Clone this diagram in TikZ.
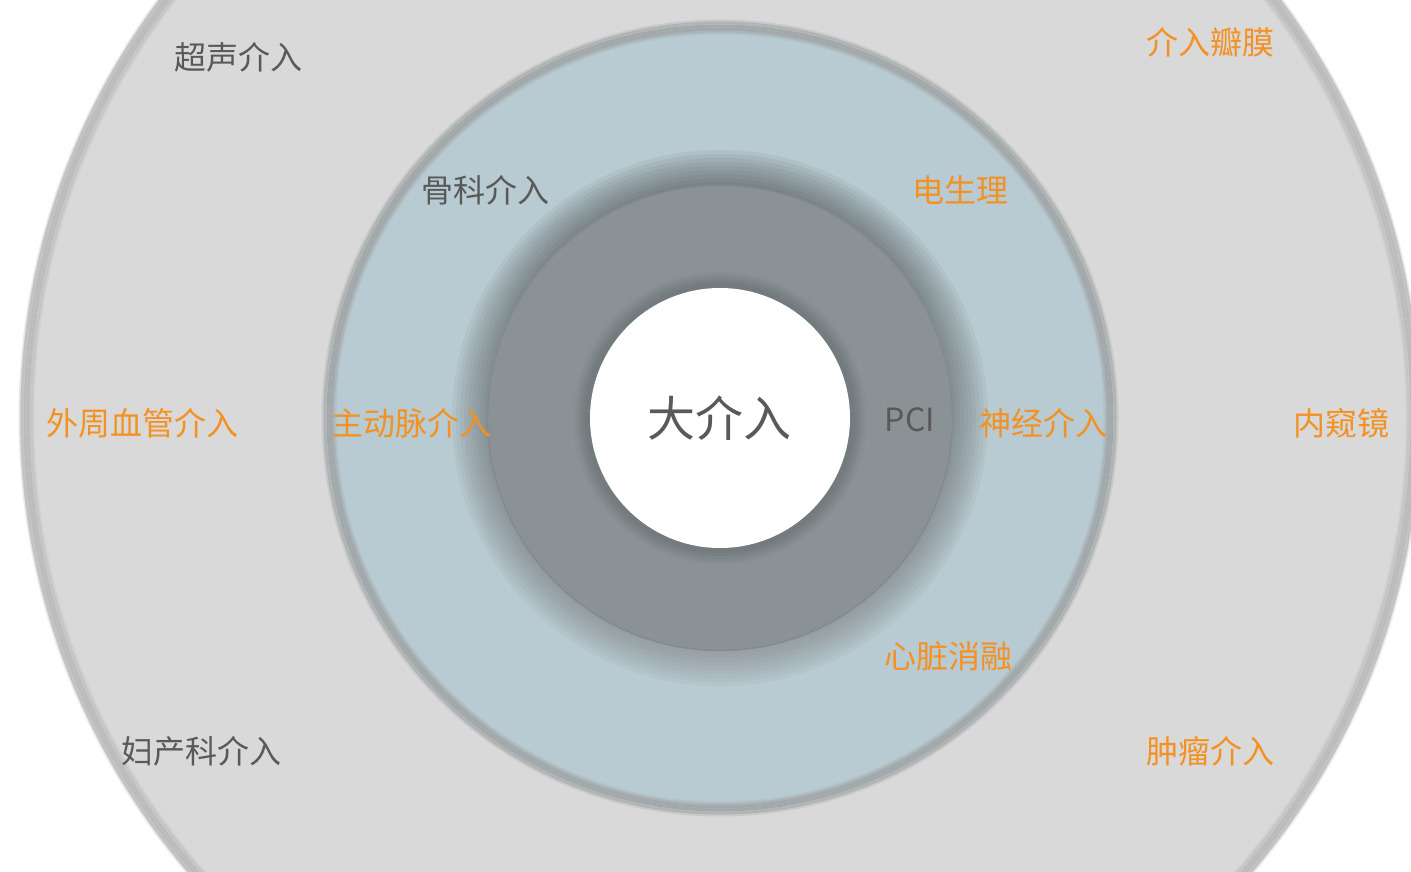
\documentclass[tikz,border=0pt]{standalone}
\usepackage{fontspec}
\setmainfont{Noto Sans CJK SC}
\definecolor{outerfill}{HTML}{D9D9D9}
\definecolor{outerrim}{HTML}{BCBCBC}
\definecolor{bluefill}{HTML}{B8CBD2}
\definecolor{bluerim}{HTML}{A3A8AA}
\definecolor{ringfill}{HTML}{8A9295}
\definecolor{ringrim}{HTML}{83898C}
\definecolor{shade}{HTML}{6A7A82}
\definecolor{coreshade}{HTML}{5E6466}
\definecolor{orangetxt}{HTML}{F39123}
\definecolor{graytxt}{HTML}{595959}
\tikzset{
  lbl/.style={inner sep=0pt, anchor=center, font=\fontsize{32}{36}\selectfont},
  hot/.style={lbl, text=orangetxt},
  cold/.style={lbl, text=graytxt},
}
\begin{document}
\begin{tikzpicture}[x=1pt,y=-1pt]
\useasboundingbox (0,0) rectangle (1411,872);
\fill[white] (0,0) rectangle (1411,872);
\coordinate (c) at (720,418);
% outer disc
\fill[outerfill] (c) circle (700pt);
\foreach \r/\o in {700/0.3,698/0.7,695/1,692/1,689/0.6,687/0.25}
  \draw[outerrim, opacity=\o, line width=3pt] (c) circle (\r pt);
% blue disc
\fill[bluefill] (c) circle (393pt);
\foreach \r/\o in {397/0.3,395/0.7,392/1,389/1,387/0.6,385/0.25}
  \draw[bluerim, opacity=\o, line width=3pt] (c) circle (\r pt);
% shadow around dark ring
\foreach \r in {268,264,...,236}
  \fill[shade, opacity=0.035] (c) circle (\r pt);
% dark ring
\fill[ringfill] (c) circle (233pt);
\draw[ringrim, line width=1.2pt] (c) circle (232.5pt);
% shadow around white core
\foreach \r/\o in {147/0.06,144/0.1,141/0.14,138/0.14,135/0.12}
  \fill[coreshade, opacity=\o] (c) circle (\r pt);
\fill[white] (c) circle (130pt);
% labels
\node[lbl, text=graytxt, font=\fontsize{48}{52}\selectfont] (core) at (719,418) {大介入};
\node[cold] (pci) at (910,420) {PCI};
\node[cold] (chaosheng) at (238,57) {超声介入};
\node[hot] (banmo) at (1210,42) {介入瓣膜};
\node[cold] (guke) at (485,190) {骨科介入};
\node[hot] (dian) at (960,190) {电生理};
\node[hot] (waizhou) at (142,423) {外周血管介入};
\node[hot] (zhudong) at (411,423) {主动脉介入};
\node[hot] (shenjing) at (1043,423) {神经介入};
\node[hot] (neikui) at (1341,423) {内窥镜};
\node[hot] (xinzang) at (948,656) {心脏消融};
\node[cold] (fuchan) at (201,751) {妇产科介入};
\node[hot] (zhongliu) at (1210,751) {肿瘤介入};
\end{tikzpicture}
\end{document}
